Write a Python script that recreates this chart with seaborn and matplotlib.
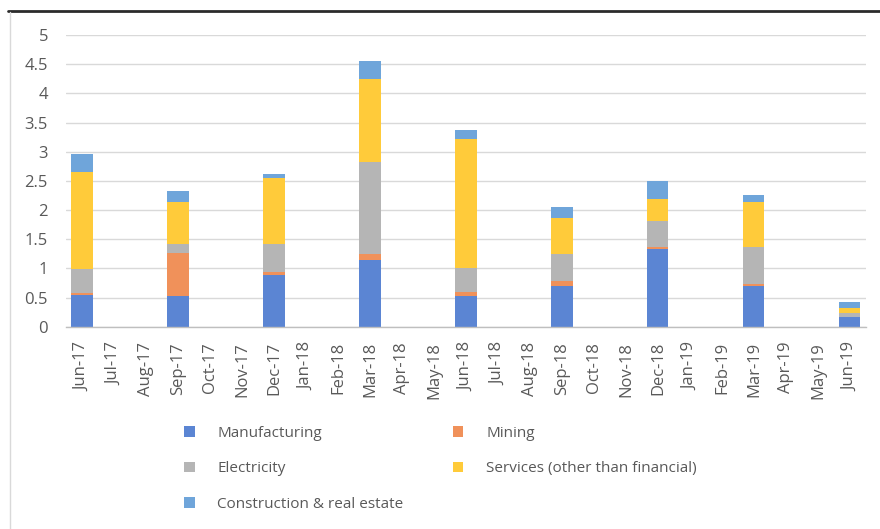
import matplotlib
matplotlib.use("Agg")
import matplotlib.pyplot as plt
from matplotlib.lines import Line2D
from matplotlib.patches import Patch
import numpy as np
import pandas as pd
import seaborn as sns

# Monthly categories (only quarter-end months carry data)
months = ["Jun-17", "Jul-17", "Aug-17", "Sep-17", "Oct-17", "Nov-17",
          "Dec-17", "Jan-18", "Feb-18", "Mar-18", "Apr-18", "May-18",
          "Jun-18", "Jul-18", "Aug-18", "Sep-18", "Oct-18", "Nov-18",
          "Dec-18", "Jan-19", "Feb-19", "Mar-19", "Apr-19", "May-19",
          "Jun-19"]

# Quarter-end values by sector
quarters = ["Jun-17", "Sep-17", "Dec-17", "Mar-18", "Jun-18",
            "Sep-18", "Dec-18", "Mar-19", "Jun-19"]
manufacturing = [0.55, 0.53, 0.88, 1.14, 0.53, 0.70, 1.34, 0.70, 0.17]
mining        = [0.02, 0.73, 0.05, 0.10, 0.07, 0.09, 0.02, 0.03, 0.00]
electricity   = [0.42, 0.15, 0.48, 1.59, 0.41, 0.45, 0.45, 0.63, 0.07]
services      = [1.67, 0.72, 1.14, 1.41, 2.20, 0.62, 0.38, 0.78, 0.08]
construction  = [0.30, 0.20, 0.07, 0.32, 0.16, 0.19, 0.30, 0.11, 0.11]

sectors = ["Manufacturing", "Mining", "Electricity",
           "Services (other than financial)", "Construction & real estate"]
series = [manufacturing, mining, electricity, services, construction]
colors = ["#5B85D3", "#F0915A", "#B5B5B5", "#FFCB3A", "#6FA5DA"]

text_color = "#595959"
grid_color = "#D9D9D9"

sns.set_theme(style="white")
plt.rcParams["font.family"] = ["Open Sans", "DejaVu Sans"]

fig = plt.figure(figsize=(8.8, 5.29), dpi=100)
ax = fig.add_axes([0.075, 0.3824, 0.909, 0.5514])

frame = pd.DataFrame({"month": months})
bottom = np.zeros(len(months))
for name, vals, col in zip(sectors, series, colors):
    full = pd.Series(vals, index=quarters).reindex(months).fillna(0.0).values
    frame["value"] = full
    sns.barplot(data=frame, x="month", y="value", order=months, ax=ax,
                color=col, bottom=bottom, width=0.66, errorbar=None,
                linewidth=0, saturation=1)
    bottom = bottom + full

ax.set_ylim(0, 5)
ax.set_xlim(-0.5, len(months) - 0.5)
ax.set_yticks(np.arange(0, 5.01, 0.5))
ax.set_yticklabels([f"{v:g}" for v in np.arange(0, 5.01, 0.5)])
ax.yaxis.grid(True, color=grid_color, linewidth=1)
ax.set_axisbelow(True)
ax.set_xlabel("")
ax.set_ylabel("")

for s in ["top", "right", "left"]:
    ax.spines[s].set_visible(False)
ax.spines["bottom"].set_color("#BFBFBF")
ax.spines["bottom"].set_linewidth(1)

ax.tick_params(axis="y", length=0, pad=13, labelsize=12, labelcolor=text_color)
ax.tick_params(axis="x", which="major", length=0, pad=11, labelsize=12,
               labelcolor=text_color, labelrotation=90)
ax.set_xticks(np.arange(-0.5, len(months), 1.0), minor=True)
ax.tick_params(axis="x", which="minor", length=5, width=1, color="#BFBFBF",
               direction="out")

handles = [Patch(facecolor=c, edgecolor="none") for c in colors]
order = [0, 2, 4, 1, 3]
leg = fig.legend([handles[i] for i in order], [sectors[i] for i in order],
                 ncol=2, loc="upper left", bbox_to_anchor=(0.202, 0.207),
                 frameon=False, fontsize=11, handlelength=0.7,
                 handleheight=0.7, handletextpad=1.5, columnspacing=3.2,
                 labelspacing=1.36, borderaxespad=0)
for t in leg.get_texts():
    t.set_color(text_color)

# chart frame: dark rule on top, light border on the left
fig.add_artist(Line2D([8 / 880, 1.0], [1 - 11 / 529, 1 - 11 / 529],
                      color="#2B2B2B", linewidth=2))
fig.add_artist(Line2D([10 / 880, 10 / 880], [0, 1 - 12 / 529],
                      color="#D9D9D9", linewidth=1))

fig.savefig("out.png", dpi=100)
